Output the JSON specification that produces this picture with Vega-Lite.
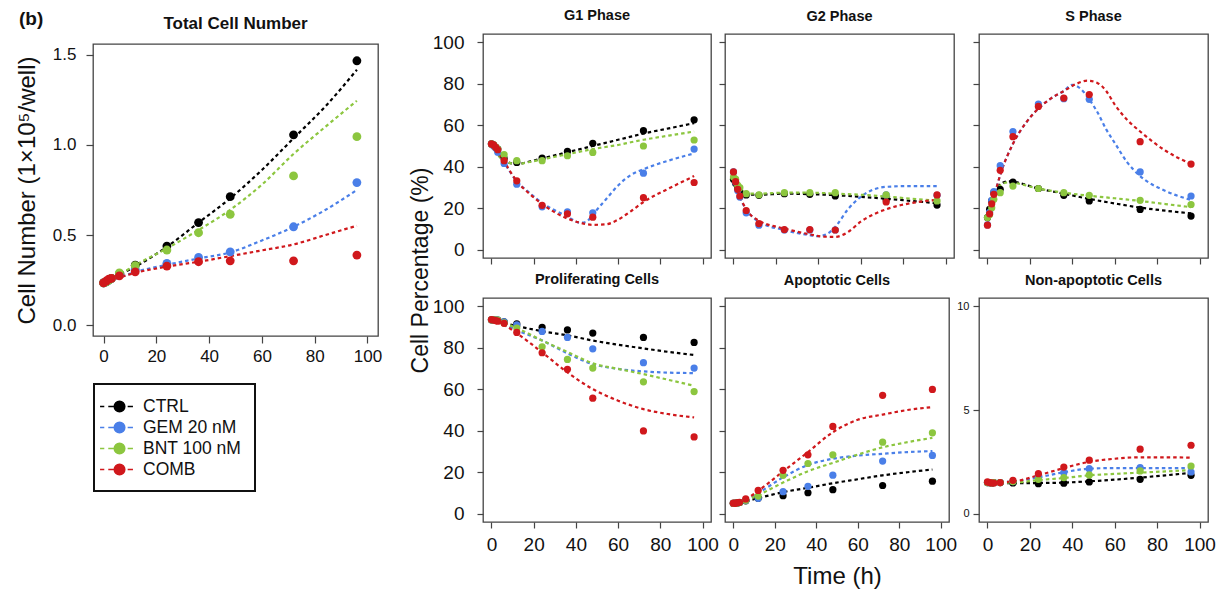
{
"$schema": "https://vega.github.io/schema/vega-lite/v6.json",
"padding": {"left": 14, "top": 7, "right": 4, "bottom": 4},
"spacing": 25,
"datasets": {
"obs": [
{"p":"Total","g":"CTRL","t":0,"v":0.235},{"p":"Total","g":"CTRL","t":1,"v":0.24},{"p":"Total","g":"CTRL","t":2,"v":0.25},{"p":"Total","g":"CTRL","t":3,"v":0.26},{"p":"Total","g":"CTRL","t":6,"v":0.285},{"p":"Total","g":"CTRL","t":12,"v":0.333},{"p":"Total","g":"CTRL","t":24,"v":0.439},{"p":"Total","g":"CTRL","t":36,"v":0.569},{"p":"Total","g":"CTRL","t":48,"v":0.713},{"p":"Total","g":"CTRL","t":72,"v":1.056},{"p":"Total","g":"CTRL","t":96,"v":1.467},
{"p":"Total","g":"GEM 20 nM","t":0,"v":0.235},{"p":"Total","g":"GEM 20 nM","t":1,"v":0.24},{"p":"Total","g":"GEM 20 nM","t":2,"v":0.25},{"p":"Total","g":"GEM 20 nM","t":3,"v":0.26},{"p":"Total","g":"GEM 20 nM","t":6,"v":0.28},{"p":"Total","g":"GEM 20 nM","t":12,"v":0.31},{"p":"Total","g":"GEM 20 nM","t":24,"v":0.343},{"p":"Total","g":"GEM 20 nM","t":36,"v":0.376},{"p":"Total","g":"GEM 20 nM","t":48,"v":0.407},{"p":"Total","g":"GEM 20 nM","t":72,"v":0.546},{"p":"Total","g":"GEM 20 nM","t":96,"v":0.791},
{"p":"Total","g":"BNT 100 nM","t":0,"v":0.235},{"p":"Total","g":"BNT 100 nM","t":1,"v":0.24},{"p":"Total","g":"BNT 100 nM","t":2,"v":0.25},{"p":"Total","g":"BNT 100 nM","t":3,"v":0.26},{"p":"Total","g":"BNT 100 nM","t":6,"v":0.29},{"p":"Total","g":"BNT 100 nM","t":12,"v":0.33},{"p":"Total","g":"BNT 100 nM","t":24,"v":0.417},{"p":"Total","g":"BNT 100 nM","t":36,"v":0.513},{"p":"Total","g":"BNT 100 nM","t":48,"v":0.615},{"p":"Total","g":"BNT 100 nM","t":72,"v":0.828},{"p":"Total","g":"BNT 100 nM","t":96,"v":1.046},
{"p":"Total","g":"COMB","t":0,"v":0.235},{"p":"Total","g":"COMB","t":1,"v":0.245},{"p":"Total","g":"COMB","t":2,"v":0.255},{"p":"Total","g":"COMB","t":3,"v":0.26},{"p":"Total","g":"COMB","t":6,"v":0.274},{"p":"Total","g":"COMB","t":12,"v":0.296},{"p":"Total","g":"COMB","t":24,"v":0.328},{"p":"Total","g":"COMB","t":36,"v":0.352},{"p":"Total","g":"COMB","t":48,"v":0.357},{"p":"Total","g":"COMB","t":72,"v":0.357},{"p":"Total","g":"COMB","t":96,"v":0.389},

{"p":"G1","g":"CTRL","t":0,"v":51},{"p":"G1","g":"CTRL","t":1,"v":50.5},{"p":"G1","g":"CTRL","t":2,"v":49.5},{"p":"G1","g":"CTRL","t":3,"v":48.5},{"p":"G1","g":"CTRL","t":6,"v":44},{"p":"G1","g":"CTRL","t":12,"v":42.1},{"p":"G1","g":"CTRL","t":24,"v":44.2},{"p":"G1","g":"CTRL","t":36,"v":47.4},{"p":"G1","g":"CTRL","t":48,"v":51.3},{"p":"G1","g":"CTRL","t":72,"v":57.4},{"p":"G1","g":"CTRL","t":96,"v":62.6},
{"p":"G1","g":"GEM 20 nM","t":0,"v":51},{"p":"G1","g":"GEM 20 nM","t":1,"v":50},{"p":"G1","g":"GEM 20 nM","t":2,"v":49},{"p":"G1","g":"GEM 20 nM","t":3,"v":47},{"p":"G1","g":"GEM 20 nM","t":6,"v":41.6},{"p":"G1","g":"GEM 20 nM","t":12,"v":31.6},{"p":"G1","g":"GEM 20 nM","t":24,"v":20.7},{"p":"G1","g":"GEM 20 nM","t":36,"v":18.3},{"p":"G1","g":"GEM 20 nM","t":48,"v":17.8},{"p":"G1","g":"GEM 20 nM","t":72,"v":36.9},{"p":"G1","g":"GEM 20 nM","t":96,"v":48.5},
{"p":"G1","g":"BNT 100 nM","t":0,"v":51},{"p":"G1","g":"BNT 100 nM","t":1,"v":50.5},{"p":"G1","g":"BNT 100 nM","t":2,"v":49.5},{"p":"G1","g":"BNT 100 nM","t":3,"v":48.5},{"p":"G1","g":"BNT 100 nM","t":6,"v":45.8},{"p":"G1","g":"BNT 100 nM","t":12,"v":42.9},{"p":"G1","g":"BNT 100 nM","t":24,"v":42.9},{"p":"G1","g":"BNT 100 nM","t":36,"v":45.3},{"p":"G1","g":"BNT 100 nM","t":48,"v":46.9},{"p":"G1","g":"BNT 100 nM","t":72,"v":50.0},{"p":"G1","g":"BNT 100 nM","t":96,"v":52.9},
{"p":"G1","g":"COMB","t":0,"v":51},{"p":"G1","g":"COMB","t":1,"v":50.5},{"p":"G1","g":"COMB","t":2,"v":49.4},{"p":"G1","g":"COMB","t":3,"v":48.2},{"p":"G1","g":"COMB","t":6,"v":42.9},{"p":"G1","g":"COMB","t":12,"v":33.2},{"p":"G1","g":"COMB","t":24,"v":21.4},{"p":"G1","g":"COMB","t":36,"v":17.3},{"p":"G1","g":"COMB","t":48,"v":15.7},{"p":"G1","g":"COMB","t":72,"v":25.1},{"p":"G1","g":"COMB","t":96,"v":32.4},

{"p":"G2","g":"CTRL","t":0,"v":34},{"p":"G2","g":"CTRL","t":1,"v":32},{"p":"G2","g":"CTRL","t":2,"v":30},{"p":"G2","g":"CTRL","t":3,"v":28},{"p":"G2","g":"CTRL","t":6,"v":26.4},{"p":"G2","g":"CTRL","t":12,"v":26.2},{"p":"G2","g":"CTRL","t":24,"v":27.0},{"p":"G2","g":"CTRL","t":36,"v":26.7},{"p":"G2","g":"CTRL","t":48,"v":25.9},{"p":"G2","g":"CTRL","t":72,"v":24.1},{"p":"G2","g":"CTRL","t":96,"v":21.5},
{"p":"G2","g":"GEM 20 nM","t":0,"v":37.5},{"p":"G2","g":"GEM 20 nM","t":1,"v":32.5},{"p":"G2","g":"GEM 20 nM","t":2,"v":28.5},{"p":"G2","g":"GEM 20 nM","t":3,"v":25.4},{"p":"G2","g":"GEM 20 nM","t":6,"v":17.8},{"p":"G2","g":"GEM 20 nM","t":12,"v":11.8},{"p":"G2","g":"GEM 20 nM","t":24,"v":9.5},{"p":"G2","g":"GEM 20 nM","t":36,"v":9.5},{"p":"G2","g":"GEM 20 nM","t":48,"v":9.5},{"p":"G2","g":"GEM 20 nM","t":72,"v":26.4},{"p":"G2","g":"GEM 20 nM","t":96,"v":26.2},
{"p":"G2","g":"BNT 100 nM","t":0,"v":35},{"p":"G2","g":"BNT 100 nM","t":1,"v":34},{"p":"G2","g":"BNT 100 nM","t":2,"v":31},{"p":"G2","g":"BNT 100 nM","t":3,"v":29.9},{"p":"G2","g":"BNT 100 nM","t":6,"v":27.0},{"p":"G2","g":"BNT 100 nM","t":12,"v":26.5},{"p":"G2","g":"BNT 100 nM","t":24,"v":27.5},{"p":"G2","g":"BNT 100 nM","t":36,"v":27.5},{"p":"G2","g":"BNT 100 nM","t":48,"v":27.5},{"p":"G2","g":"BNT 100 nM","t":72,"v":26.4},{"p":"G2","g":"BNT 100 nM","t":96,"v":23.5},
{"p":"G2","g":"COMB","t":0,"v":37.5},{"p":"G2","g":"COMB","t":1,"v":32.8},{"p":"G2","g":"COMB","t":2,"v":29.1},{"p":"G2","g":"COMB","t":3,"v":25.9},{"p":"G2","g":"COMB","t":6,"v":18.9},{"p":"G2","g":"COMB","t":12,"v":12.6},{"p":"G2","g":"COMB","t":24,"v":9.7},{"p":"G2","g":"COMB","t":36,"v":9.7},{"p":"G2","g":"COMB","t":48,"v":9.5},{"p":"G2","g":"COMB","t":72,"v":23.0},{"p":"G2","g":"COMB","t":96,"v":26.4},

{"p":"S","g":"CTRL","t":0,"v":15.5},{"p":"S","g":"CTRL","t":1,"v":19.4},{"p":"S","g":"CTRL","t":2,"v":23.5},{"p":"S","g":"CTRL","t":3,"v":27.5},{"p":"S","g":"CTRL","t":6,"v":29.1},{"p":"S","g":"CTRL","t":12,"v":32.6},{"p":"S","g":"CTRL","t":24,"v":29.5},{"p":"S","g":"CTRL","t":36,"v":26.2},{"p":"S","g":"CTRL","t":48,"v":23.5},{"p":"S","g":"CTRL","t":72,"v":19.4},{"p":"S","g":"CTRL","t":96,"v":16.2},
{"p":"S","g":"GEM 20 nM","t":0,"v":12},{"p":"S","g":"GEM 20 nM","t":1,"v":18},{"p":"S","g":"GEM 20 nM","t":2,"v":23.8},{"p":"S","g":"GEM 20 nM","t":3,"v":28},{"p":"S","g":"GEM 20 nM","t":6,"v":40.5},{"p":"S","g":"GEM 20 nM","t":12,"v":57},{"p":"S","g":"GEM 20 nM","t":24,"v":70.2},{"p":"S","g":"GEM 20 nM","t":36,"v":72.8},{"p":"S","g":"GEM 20 nM","t":48,"v":72.5},{"p":"S","g":"GEM 20 nM","t":72,"v":37.5},{"p":"S","g":"GEM 20 nM","t":96,"v":25.9},
{"p":"S","g":"BNT 100 nM","t":0,"v":15.5},{"p":"S","g":"BNT 100 nM","t":1,"v":17},{"p":"S","g":"BNT 100 nM","t":2,"v":20.2},{"p":"S","g":"BNT 100 nM","t":3,"v":24.3},{"p":"S","g":"BNT 100 nM","t":6,"v":27.5},{"p":"S","g":"BNT 100 nM","t":12,"v":30.7},{"p":"S","g":"BNT 100 nM","t":24,"v":29.5},{"p":"S","g":"BNT 100 nM","t":36,"v":27.5},{"p":"S","g":"BNT 100 nM","t":48,"v":26.2},{"p":"S","g":"BNT 100 nM","t":72,"v":23.8},{"p":"S","g":"BNT 100 nM","t":96,"v":21.8},
{"p":"S","g":"COMB","t":0,"v":11.8},{"p":"S","g":"COMB","t":1,"v":17.3},{"p":"S","g":"COMB","t":2,"v":22.1},{"p":"S","g":"COMB","t":3,"v":26.7},{"p":"S","g":"COMB","t":6,"v":38.3},{"p":"S","g":"COMB","t":12,"v":54.5},{"p":"S","g":"COMB","t":24,"v":69.1},{"p":"S","g":"COMB","t":36,"v":73.1},{"p":"S","g":"COMB","t":48,"v":74.8},{"p":"S","g":"COMB","t":72,"v":52.1},{"p":"S","g":"COMB","t":96,"v":41.3},

{"p":"Prolif","g":"CTRL","t":0,"v":93.5},{"p":"Prolif","g":"CTRL","t":1,"v":93.5},{"p":"Prolif","g":"CTRL","t":2,"v":93.4},{"p":"Prolif","g":"CTRL","t":3,"v":93.3},{"p":"Prolif","g":"CTRL","t":6,"v":92.5},{"p":"Prolif","g":"CTRL","t":12,"v":91.5},{"p":"Prolif","g":"CTRL","t":24,"v":89.9},{"p":"Prolif","g":"CTRL","t":36,"v":88.6},{"p":"Prolif","g":"CTRL","t":48,"v":87.1},{"p":"Prolif","g":"CTRL","t":72,"v":85.0},{"p":"Prolif","g":"CTRL","t":96,"v":82.6},
{"p":"Prolif","g":"GEM 20 nM","t":0,"v":93.5},{"p":"Prolif","g":"GEM 20 nM","t":1,"v":93.5},{"p":"Prolif","g":"GEM 20 nM","t":2,"v":93.4},{"p":"Prolif","g":"GEM 20 nM","t":3,"v":93.3},{"p":"Prolif","g":"GEM 20 nM","t":6,"v":92.5},{"p":"Prolif","g":"GEM 20 nM","t":12,"v":91.0},{"p":"Prolif","g":"GEM 20 nM","t":24,"v":87.9},{"p":"Prolif","g":"GEM 20 nM","t":36,"v":85.0},{"p":"Prolif","g":"GEM 20 nM","t":48,"v":79.5},{"p":"Prolif","g":"GEM 20 nM","t":72,"v":72.8},{"p":"Prolif","g":"GEM 20 nM","t":96,"v":70.2},
{"p":"Prolif","g":"BNT 100 nM","t":0,"v":93.5},{"p":"Prolif","g":"BNT 100 nM","t":1,"v":93.5},{"p":"Prolif","g":"BNT 100 nM","t":2,"v":93.4},{"p":"Prolif","g":"BNT 100 nM","t":3,"v":93.3},{"p":"Prolif","g":"BNT 100 nM","t":6,"v":92.0},{"p":"Prolif","g":"BNT 100 nM","t":12,"v":89.5},{"p":"Prolif","g":"BNT 100 nM","t":24,"v":80.5},{"p":"Prolif","g":"BNT 100 nM","t":36,"v":74.4},{"p":"Prolif","g":"BNT 100 nM","t":48,"v":70.2},{"p":"Prolif","g":"BNT 100 nM","t":72,"v":63.6},{"p":"Prolif","g":"BNT 100 nM","t":96,"v":58.9},
{"p":"Prolif","g":"COMB","t":0,"v":93.6},{"p":"Prolif","g":"COMB","t":1,"v":93.4},{"p":"Prolif","g":"COMB","t":2,"v":93.1},{"p":"Prolif","g":"COMB","t":3,"v":92.8},{"p":"Prolif","g":"COMB","t":6,"v":91.8},{"p":"Prolif","g":"COMB","t":12,"v":87.4},{"p":"Prolif","g":"COMB","t":24,"v":77.6},{"p":"Prolif","g":"COMB","t":36,"v":69.6},{"p":"Prolif","g":"COMB","t":48,"v":55.7},{"p":"Prolif","g":"COMB","t":72,"v":39.9},{"p":"Prolif","g":"COMB","t":96,"v":37.0},

{"p":"Apop","g":"CTRL","t":0,"v":5.0},{"p":"Apop","g":"CTRL","t":1,"v":5.1},{"p":"Apop","g":"CTRL","t":2,"v":5.2},{"p":"Apop","g":"CTRL","t":3,"v":5.4},{"p":"Apop","g":"CTRL","t":6,"v":6.2},{"p":"Apop","g":"CTRL","t":12,"v":7.4},{"p":"Apop","g":"CTRL","t":24,"v":8.7},{"p":"Apop","g":"CTRL","t":36,"v":10.1},{"p":"Apop","g":"CTRL","t":48,"v":11.6},{"p":"Apop","g":"CTRL","t":72,"v":13.6},{"p":"Apop","g":"CTRL","t":96,"v":15.7},
{"p":"Apop","g":"GEM 20 nM","t":0,"v":5.0},{"p":"Apop","g":"GEM 20 nM","t":1,"v":5.1},{"p":"Apop","g":"GEM 20 nM","t":2,"v":5.2},{"p":"Apop","g":"GEM 20 nM","t":3,"v":5.4},{"p":"Apop","g":"GEM 20 nM","t":6,"v":6.4},{"p":"Apop","g":"GEM 20 nM","t":12,"v":7.4},{"p":"Apop","g":"GEM 20 nM","t":24,"v":10.6},{"p":"Apop","g":"GEM 20 nM","t":36,"v":13.2},{"p":"Apop","g":"GEM 20 nM","t":48,"v":18.6},{"p":"Apop","g":"GEM 20 nM","t":72,"v":25.4},{"p":"Apop","g":"GEM 20 nM","t":96,"v":28.1},
{"p":"Apop","g":"BNT 100 nM","t":0,"v":5.0},{"p":"Apop","g":"BNT 100 nM","t":1,"v":5.1},{"p":"Apop","g":"BNT 100 nM","t":2,"v":5.2},{"p":"Apop","g":"BNT 100 nM","t":3,"v":5.4},{"p":"Apop","g":"BNT 100 nM","t":6,"v":6.5},{"p":"Apop","g":"BNT 100 nM","t":12,"v":8.5},{"p":"Apop","g":"BNT 100 nM","t":24,"v":18.5},{"p":"Apop","g":"BNT 100 nM","t":36,"v":24.2},{"p":"Apop","g":"BNT 100 nM","t":48,"v":28.4},{"p":"Apop","g":"BNT 100 nM","t":72,"v":34.5},{"p":"Apop","g":"BNT 100 nM","t":96,"v":39.0},
{"p":"Apop","g":"COMB","t":0,"v":5.1},{"p":"Apop","g":"COMB","t":1,"v":5.0},{"p":"Apop","g":"COMB","t":2,"v":5.3},{"p":"Apop","g":"COMB","t":3,"v":5.5},{"p":"Apop","g":"COMB","t":6,"v":7.1},{"p":"Apop","g":"COMB","t":12,"v":11.2},{"p":"Apop","g":"COMB","t":24,"v":20.9},{"p":"Apop","g":"COMB","t":36,"v":28.4},{"p":"Apop","g":"COMB","t":48,"v":42.1},{"p":"Apop","g":"COMB","t":72,"v":57.1},{"p":"Apop","g":"COMB","t":96,"v":59.9},

{"p":"NonApop","g":"CTRL","t":0,"v":1.5},{"p":"NonApop","g":"CTRL","t":1,"v":1.5},{"p":"NonApop","g":"CTRL","t":2,"v":1.48},{"p":"NonApop","g":"CTRL","t":3,"v":1.5},{"p":"NonApop","g":"CTRL","t":6,"v":1.5},{"p":"NonApop","g":"CTRL","t":12,"v":1.48},{"p":"NonApop","g":"CTRL","t":24,"v":1.45},{"p":"NonApop","g":"CTRL","t":36,"v":1.47},{"p":"NonApop","g":"CTRL","t":48,"v":1.53},{"p":"NonApop","g":"CTRL","t":72,"v":1.66},{"p":"NonApop","g":"CTRL","t":96,"v":1.85},
{"p":"NonApop","g":"GEM 20 nM","t":0,"v":1.5},{"p":"NonApop","g":"GEM 20 nM","t":1,"v":1.5},{"p":"NonApop","g":"GEM 20 nM","t":2,"v":1.48},{"p":"NonApop","g":"GEM 20 nM","t":3,"v":1.5},{"p":"NonApop","g":"GEM 20 nM","t":6,"v":1.5},{"p":"NonApop","g":"GEM 20 nM","t":12,"v":1.55},{"p":"NonApop","g":"GEM 20 nM","t":24,"v":1.74},{"p":"NonApop","g":"GEM 20 nM","t":36,"v":1.98},{"p":"NonApop","g":"GEM 20 nM","t":48,"v":2.17},{"p":"NonApop","g":"GEM 20 nM","t":72,"v":2.22},{"p":"NonApop","g":"GEM 20 nM","t":96,"v":2.01},
{"p":"NonApop","g":"BNT 100 nM","t":0,"v":1.5},{"p":"NonApop","g":"BNT 100 nM","t":1,"v":1.5},{"p":"NonApop","g":"BNT 100 nM","t":2,"v":1.48},{"p":"NonApop","g":"BNT 100 nM","t":3,"v":1.5},{"p":"NonApop","g":"BNT 100 nM","t":6,"v":1.5},{"p":"NonApop","g":"BNT 100 nM","t":12,"v":1.55},{"p":"NonApop","g":"BNT 100 nM","t":24,"v":1.66},{"p":"NonApop","g":"BNT 100 nM","t":36,"v":1.74},{"p":"NonApop","g":"BNT 100 nM","t":48,"v":1.87},{"p":"NonApop","g":"BNT 100 nM","t":72,"v":2.06},{"p":"NonApop","g":"BNT 100 nM","t":96,"v":2.30},
{"p":"NonApop","g":"COMB","t":0,"v":1.53},{"p":"NonApop","g":"COMB","t":1,"v":1.5},{"p":"NonApop","g":"COMB","t":2,"v":1.48},{"p":"NonApop","g":"COMB","t":3,"v":1.48},{"p":"NonApop","g":"COMB","t":6,"v":1.5},{"p":"NonApop","g":"COMB","t":12,"v":1.61},{"p":"NonApop","g":"COMB","t":24,"v":1.93},{"p":"NonApop","g":"COMB","t":36,"v":2.25},{"p":"NonApop","g":"COMB","t":48,"v":2.58},{"p":"NonApop","g":"COMB","t":72,"v":3.11},{"p":"NonApop","g":"COMB","t":96,"v":3.30}
],
"fit": [
{"p":"Total","g":"CTRL","t":0,"v":0.235},{"p":"Total","g":"CTRL","t":6,"v":0.28},{"p":"Total","g":"CTRL","t":12,"v":0.324},{"p":"Total","g":"CTRL","t":24,"v":0.435},{"p":"Total","g":"CTRL","t":36,"v":0.569},{"p":"Total","g":"CTRL","t":48,"v":0.704},{"p":"Total","g":"CTRL","t":60,"v":0.861},{"p":"Total","g":"CTRL","t":72,"v":1.037},{"p":"Total","g":"CTRL","t":84,"v":1.213},{"p":"Total","g":"CTRL","t":96,"v":1.417},
{"p":"Total","g":"GEM 20 nM","t":0,"v":0.235},{"p":"Total","g":"GEM 20 nM","t":6,"v":0.265},{"p":"Total","g":"GEM 20 nM","t":12,"v":0.295},{"p":"Total","g":"GEM 20 nM","t":24,"v":0.335},{"p":"Total","g":"GEM 20 nM","t":36,"v":0.37},{"p":"Total","g":"GEM 20 nM","t":48,"v":0.404},{"p":"Total","g":"GEM 20 nM","t":60,"v":0.47},{"p":"Total","g":"GEM 20 nM","t":72,"v":0.546},{"p":"Total","g":"GEM 20 nM","t":84,"v":0.639},{"p":"Total","g":"GEM 20 nM","t":96,"v":0.75},
{"p":"Total","g":"BNT 100 nM","t":0,"v":0.235},{"p":"Total","g":"BNT 100 nM","t":6,"v":0.28},{"p":"Total","g":"BNT 100 nM","t":12,"v":0.333},{"p":"Total","g":"BNT 100 nM","t":24,"v":0.426},{"p":"Total","g":"BNT 100 nM","t":36,"v":0.528},{"p":"Total","g":"BNT 100 nM","t":48,"v":0.64},{"p":"Total","g":"BNT 100 nM","t":60,"v":0.78},{"p":"Total","g":"BNT 100 nM","t":72,"v":0.95},{"p":"Total","g":"BNT 100 nM","t":84,"v":1.10},{"p":"Total","g":"BNT 100 nM","t":96,"v":1.245},
{"p":"Total","g":"COMB","t":0,"v":0.235},{"p":"Total","g":"COMB","t":6,"v":0.265},{"p":"Total","g":"COMB","t":12,"v":0.29},{"p":"Total","g":"COMB","t":24,"v":0.325},{"p":"Total","g":"COMB","t":36,"v":0.352},{"p":"Total","g":"COMB","t":48,"v":0.383},{"p":"Total","g":"COMB","t":60,"v":0.415},{"p":"Total","g":"COMB","t":72,"v":0.448},{"p":"Total","g":"COMB","t":84,"v":0.5},{"p":"Total","g":"COMB","t":96,"v":0.552},

{"p":"G1","g":"CTRL","t":0,"v":51},{"p":"G1","g":"CTRL","t":3,"v":46},{"p":"G1","g":"CTRL","t":6,"v":43},{"p":"G1","g":"CTRL","t":12,"v":41.3},{"p":"G1","g":"CTRL","t":18,"v":42.5},{"p":"G1","g":"CTRL","t":24,"v":44},{"p":"G1","g":"CTRL","t":30,"v":45.5},{"p":"G1","g":"CTRL","t":36,"v":47},{"p":"G1","g":"CTRL","t":42,"v":48.5},{"p":"G1","g":"CTRL","t":48,"v":50},{"p":"G1","g":"CTRL","t":54,"v":51.5},{"p":"G1","g":"CTRL","t":60,"v":53},{"p":"G1","g":"CTRL","t":66,"v":54.5},{"p":"G1","g":"CTRL","t":72,"v":56},{"p":"G1","g":"CTRL","t":84,"v":58.5},{"p":"G1","g":"CTRL","t":96,"v":61},
{"p":"G1","g":"GEM 20 nM","t":0,"v":51},{"p":"G1","g":"GEM 20 nM","t":3,"v":47},{"p":"G1","g":"GEM 20 nM","t":6,"v":42},{"p":"G1","g":"GEM 20 nM","t":12,"v":33},{"p":"G1","g":"GEM 20 nM","t":18,"v":27.5},{"p":"G1","g":"GEM 20 nM","t":24,"v":22.5},{"p":"G1","g":"GEM 20 nM","t":30,"v":19},{"p":"G1","g":"GEM 20 nM","t":36,"v":16},{"p":"G1","g":"GEM 20 nM","t":42,"v":13},{"p":"G1","g":"GEM 20 nM","t":45,"v":13.5},{"p":"G1","g":"GEM 20 nM","t":48,"v":17},{"p":"G1","g":"GEM 20 nM","t":54,"v":24},{"p":"G1","g":"GEM 20 nM","t":60,"v":31},{"p":"G1","g":"GEM 20 nM","t":66,"v":36},{"p":"G1","g":"GEM 20 nM","t":72,"v":38.8},{"p":"G1","g":"GEM 20 nM","t":84,"v":43},{"p":"G1","g":"GEM 20 nM","t":96,"v":46.4},
{"p":"G1","g":"BNT 100 nM","t":0,"v":51},{"p":"G1","g":"BNT 100 nM","t":3,"v":46},{"p":"G1","g":"BNT 100 nM","t":6,"v":43},{"p":"G1","g":"BNT 100 nM","t":12,"v":41.3},{"p":"G1","g":"BNT 100 nM","t":18,"v":42.3},{"p":"G1","g":"BNT 100 nM","t":24,"v":43.5},{"p":"G1","g":"BNT 100 nM","t":30,"v":44.8},{"p":"G1","g":"BNT 100 nM","t":36,"v":46},{"p":"G1","g":"BNT 100 nM","t":42,"v":47.3},{"p":"G1","g":"BNT 100 nM","t":48,"v":48.5},{"p":"G1","g":"BNT 100 nM","t":54,"v":49.5},{"p":"G1","g":"BNT 100 nM","t":60,"v":50.5},{"p":"G1","g":"BNT 100 nM","t":66,"v":51.8},{"p":"G1","g":"BNT 100 nM","t":72,"v":53},{"p":"G1","g":"BNT 100 nM","t":84,"v":55},{"p":"G1","g":"BNT 100 nM","t":96,"v":57},
{"p":"G1","g":"COMB","t":0,"v":51},{"p":"G1","g":"COMB","t":3,"v":47},{"p":"G1","g":"COMB","t":6,"v":42.5},{"p":"G1","g":"COMB","t":12,"v":33},{"p":"G1","g":"COMB","t":18,"v":27},{"p":"G1","g":"COMB","t":24,"v":22},{"p":"G1","g":"COMB","t":30,"v":18},{"p":"G1","g":"COMB","t":36,"v":15},{"p":"G1","g":"COMB","t":42,"v":13},{"p":"G1","g":"COMB","t":48,"v":12},{"p":"G1","g":"COMB","t":54,"v":12.2},{"p":"G1","g":"COMB","t":60,"v":14.5},{"p":"G1","g":"COMB","t":66,"v":18.5},{"p":"G1","g":"COMB","t":72,"v":23},{"p":"G1","g":"COMB","t":84,"v":29.5},{"p":"G1","g":"COMB","t":96,"v":35.5},

{"p":"G2","g":"CTRL","t":0,"v":34},{"p":"G2","g":"CTRL","t":3,"v":28},{"p":"G2","g":"CTRL","t":6,"v":26.5},{"p":"G2","g":"CTRL","t":12,"v":26.5},{"p":"G2","g":"CTRL","t":24,"v":27},{"p":"G2","g":"CTRL","t":36,"v":26.8},{"p":"G2","g":"CTRL","t":48,"v":26.3},{"p":"G2","g":"CTRL","t":60,"v":25.5},{"p":"G2","g":"CTRL","t":72,"v":24.6},{"p":"G2","g":"CTRL","t":84,"v":23.5},{"p":"G2","g":"CTRL","t":96,"v":22.4},
{"p":"G2","g":"GEM 20 nM","t":0,"v":37.5},{"p":"G2","g":"GEM 20 nM","t":3,"v":25.5},{"p":"G2","g":"GEM 20 nM","t":6,"v":19.5},{"p":"G2","g":"GEM 20 nM","t":12,"v":13.5},{"p":"G2","g":"GEM 20 nM","t":24,"v":9.5},{"p":"G2","g":"GEM 20 nM","t":36,"v":7},{"p":"G2","g":"GEM 20 nM","t":40,"v":6.5},{"p":"G2","g":"GEM 20 nM","t":44,"v":7.5},{"p":"G2","g":"GEM 20 nM","t":48,"v":11},{"p":"G2","g":"GEM 20 nM","t":54,"v":19.5},{"p":"G2","g":"GEM 20 nM","t":60,"v":25.5},{"p":"G2","g":"GEM 20 nM","t":66,"v":29},{"p":"G2","g":"GEM 20 nM","t":72,"v":30.3},{"p":"G2","g":"GEM 20 nM","t":84,"v":30.7},{"p":"G2","g":"GEM 20 nM","t":96,"v":30.7},
{"p":"G2","g":"BNT 100 nM","t":0,"v":35},{"p":"G2","g":"BNT 100 nM","t":3,"v":29},{"p":"G2","g":"BNT 100 nM","t":6,"v":27},{"p":"G2","g":"BNT 100 nM","t":12,"v":27},{"p":"G2","g":"BNT 100 nM","t":24,"v":27.5},{"p":"G2","g":"BNT 100 nM","t":36,"v":27.5},{"p":"G2","g":"BNT 100 nM","t":48,"v":27},{"p":"G2","g":"BNT 100 nM","t":60,"v":26.5},{"p":"G2","g":"BNT 100 nM","t":72,"v":25.6},{"p":"G2","g":"BNT 100 nM","t":84,"v":24.6},{"p":"G2","g":"BNT 100 nM","t":96,"v":23.7},
{"p":"G2","g":"COMB","t":0,"v":37.5},{"p":"G2","g":"COMB","t":3,"v":26},{"p":"G2","g":"COMB","t":6,"v":19.5},{"p":"G2","g":"COMB","t":12,"v":14},{"p":"G2","g":"COMB","t":24,"v":10.2},{"p":"G2","g":"COMB","t":36,"v":7.4},{"p":"G2","g":"COMB","t":42,"v":6.3},{"p":"G2","g":"COMB","t":48,"v":6.2},{"p":"G2","g":"COMB","t":54,"v":8.5},{"p":"G2","g":"COMB","t":60,"v":13.5},{"p":"G2","g":"COMB","t":66,"v":17},{"p":"G2","g":"COMB","t":72,"v":19.5},{"p":"G2","g":"COMB","t":84,"v":22.5},{"p":"G2","g":"COMB","t":96,"v":24},

{"p":"S","g":"CTRL","t":0,"v":15.5},{"p":"S","g":"CTRL","t":3,"v":27},{"p":"S","g":"CTRL","t":6,"v":31.5},{"p":"S","g":"CTRL","t":10,"v":33},{"p":"S","g":"CTRL","t":12,"v":32.8},{"p":"S","g":"CTRL","t":24,"v":29.5},{"p":"S","g":"CTRL","t":36,"v":27},{"p":"S","g":"CTRL","t":48,"v":24.5},{"p":"S","g":"CTRL","t":60,"v":22.3},{"p":"S","g":"CTRL","t":72,"v":20.3},{"p":"S","g":"CTRL","t":84,"v":18.8},{"p":"S","g":"CTRL","t":96,"v":17.5},
{"p":"S","g":"GEM 20 nM","t":0,"v":12},{"p":"S","g":"GEM 20 nM","t":3,"v":25},{"p":"S","g":"GEM 20 nM","t":6,"v":36},{"p":"S","g":"GEM 20 nM","t":12,"v":51},{"p":"S","g":"GEM 20 nM","t":18,"v":61},{"p":"S","g":"GEM 20 nM","t":24,"v":68},{"p":"S","g":"GEM 20 nM","t":30,"v":73},{"p":"S","g":"GEM 20 nM","t":36,"v":76.5},{"p":"S","g":"GEM 20 nM","t":40,"v":79.5},{"p":"S","g":"GEM 20 nM","t":44,"v":77.5},{"p":"S","g":"GEM 20 nM","t":48,"v":72.5},{"p":"S","g":"GEM 20 nM","t":52,"v":66},{"p":"S","g":"GEM 20 nM","t":56,"v":58},{"p":"S","g":"GEM 20 nM","t":60,"v":51.5},{"p":"S","g":"GEM 20 nM","t":66,"v":42},{"p":"S","g":"GEM 20 nM","t":72,"v":35.5},{"p":"S","g":"GEM 20 nM","t":84,"v":28.3},{"p":"S","g":"GEM 20 nM","t":96,"v":24},
{"p":"S","g":"BNT 100 nM","t":0,"v":15.5},{"p":"S","g":"BNT 100 nM","t":3,"v":26},{"p":"S","g":"BNT 100 nM","t":6,"v":31},{"p":"S","g":"BNT 100 nM","t":10,"v":32.5},{"p":"S","g":"BNT 100 nM","t":12,"v":32.3},{"p":"S","g":"BNT 100 nM","t":24,"v":29.5},{"p":"S","g":"BNT 100 nM","t":36,"v":27.5},{"p":"S","g":"BNT 100 nM","t":48,"v":26},{"p":"S","g":"BNT 100 nM","t":60,"v":24.8},{"p":"S","g":"BNT 100 nM","t":72,"v":23.5},{"p":"S","g":"BNT 100 nM","t":84,"v":22},{"p":"S","g":"BNT 100 nM","t":96,"v":20.5},
{"p":"S","g":"COMB","t":0,"v":12},{"p":"S","g":"COMB","t":3,"v":25},{"p":"S","g":"COMB","t":6,"v":36},{"p":"S","g":"COMB","t":12,"v":51},{"p":"S","g":"COMB","t":18,"v":61},{"p":"S","g":"COMB","t":24,"v":68},{"p":"S","g":"COMB","t":30,"v":73},{"p":"S","g":"COMB","t":36,"v":76.5},{"p":"S","g":"COMB","t":42,"v":80},{"p":"S","g":"COMB","t":47,"v":81.5},{"p":"S","g":"COMB","t":52,"v":80.3},{"p":"S","g":"COMB","t":56,"v":76.5},{"p":"S","g":"COMB","t":60,"v":70},{"p":"S","g":"COMB","t":66,"v":62.5},{"p":"S","g":"COMB","t":72,"v":57},{"p":"S","g":"COMB","t":84,"v":47.7},{"p":"S","g":"COMB","t":96,"v":41.3},

{"p":"Prolif","g":"CTRL","t":0,"v":93.5},{"p":"Prolif","g":"CTRL","t":6,"v":92},{"p":"Prolif","g":"CTRL","t":12,"v":90.5},{"p":"Prolif","g":"CTRL","t":24,"v":88},{"p":"Prolif","g":"CTRL","t":36,"v":86},{"p":"Prolif","g":"CTRL","t":48,"v":83.5},{"p":"Prolif","g":"CTRL","t":60,"v":81.5},{"p":"Prolif","g":"CTRL","t":72,"v":79.7},{"p":"Prolif","g":"CTRL","t":84,"v":78},{"p":"Prolif","g":"CTRL","t":96,"v":76.5},
{"p":"Prolif","g":"GEM 20 nM","t":0,"v":93.5},{"p":"Prolif","g":"GEM 20 nM","t":6,"v":91.3},{"p":"Prolif","g":"GEM 20 nM","t":12,"v":88.5},{"p":"Prolif","g":"GEM 20 nM","t":24,"v":83.5},{"p":"Prolif","g":"GEM 20 nM","t":36,"v":77.3},{"p":"Prolif","g":"GEM 20 nM","t":48,"v":72.1},{"p":"Prolif","g":"GEM 20 nM","t":60,"v":69.8},{"p":"Prolif","g":"GEM 20 nM","t":72,"v":68.6},{"p":"Prolif","g":"GEM 20 nM","t":84,"v":68},{"p":"Prolif","g":"GEM 20 nM","t":96,"v":67.8},
{"p":"Prolif","g":"BNT 100 nM","t":0,"v":93.5},{"p":"Prolif","g":"BNT 100 nM","t":6,"v":91.8},{"p":"Prolif","g":"BNT 100 nM","t":12,"v":89.5},{"p":"Prolif","g":"BNT 100 nM","t":24,"v":83.5},{"p":"Prolif","g":"BNT 100 nM","t":36,"v":78},{"p":"Prolif","g":"BNT 100 nM","t":48,"v":72.5},{"p":"Prolif","g":"BNT 100 nM","t":60,"v":69.8},{"p":"Prolif","g":"BNT 100 nM","t":72,"v":67.3},{"p":"Prolif","g":"BNT 100 nM","t":84,"v":64.5},{"p":"Prolif","g":"BNT 100 nM","t":96,"v":61.7},
{"p":"Prolif","g":"COMB","t":0,"v":93.5},{"p":"Prolif","g":"COMB","t":6,"v":91},{"p":"Prolif","g":"COMB","t":12,"v":87},{"p":"Prolif","g":"COMB","t":24,"v":77.8},{"p":"Prolif","g":"COMB","t":36,"v":68.1},{"p":"Prolif","g":"COMB","t":48,"v":60.1},{"p":"Prolif","g":"COMB","t":60,"v":54.5},{"p":"Prolif","g":"COMB","t":72,"v":50.4},{"p":"Prolif","g":"COMB","t":84,"v":48},{"p":"Prolif","g":"COMB","t":96,"v":46.4},

{"p":"Apop","g":"CTRL","t":0,"v":5},{"p":"Apop","g":"CTRL","t":6,"v":6},{"p":"Apop","g":"CTRL","t":12,"v":7.5},{"p":"Apop","g":"CTRL","t":24,"v":10.4},{"p":"Apop","g":"CTRL","t":36,"v":12.5},{"p":"Apop","g":"CTRL","t":48,"v":14.7},{"p":"Apop","g":"CTRL","t":60,"v":16.6},{"p":"Apop","g":"CTRL","t":72,"v":18.5},{"p":"Apop","g":"CTRL","t":84,"v":20},{"p":"Apop","g":"CTRL","t":96,"v":21.3},
{"p":"Apop","g":"GEM 20 nM","t":0,"v":5},{"p":"Apop","g":"GEM 20 nM","t":6,"v":6.8},{"p":"Apop","g":"GEM 20 nM","t":12,"v":10},{"p":"Apop","g":"GEM 20 nM","t":24,"v":17.5},{"p":"Apop","g":"GEM 20 nM","t":36,"v":23.5},{"p":"Apop","g":"GEM 20 nM","t":48,"v":26.5},{"p":"Apop","g":"GEM 20 nM","t":60,"v":28},{"p":"Apop","g":"GEM 20 nM","t":72,"v":28.9},{"p":"Apop","g":"GEM 20 nM","t":84,"v":29.7},{"p":"Apop","g":"GEM 20 nM","t":96,"v":30.2},
{"p":"Apop","g":"BNT 100 nM","t":0,"v":5},{"p":"Apop","g":"BNT 100 nM","t":6,"v":6.5},{"p":"Apop","g":"BNT 100 nM","t":12,"v":9},{"p":"Apop","g":"BNT 100 nM","t":24,"v":15},{"p":"Apop","g":"BNT 100 nM","t":36,"v":20.5},{"p":"Apop","g":"BNT 100 nM","t":48,"v":24.5},{"p":"Apop","g":"BNT 100 nM","t":60,"v":28.5},{"p":"Apop","g":"BNT 100 nM","t":72,"v":32},{"p":"Apop","g":"BNT 100 nM","t":84,"v":34.5},{"p":"Apop","g":"BNT 100 nM","t":96,"v":36.6},
{"p":"Apop","g":"COMB","t":0,"v":5},{"p":"Apop","g":"COMB","t":6,"v":7},{"p":"Apop","g":"COMB","t":12,"v":11},{"p":"Apop","g":"COMB","t":24,"v":20.4},{"p":"Apop","g":"COMB","t":36,"v":29.7},{"p":"Apop","g":"COMB","t":48,"v":39.3},{"p":"Apop","g":"COMB","t":60,"v":45.3},{"p":"Apop","g":"COMB","t":72,"v":47.8},{"p":"Apop","g":"COMB","t":84,"v":50},{"p":"Apop","g":"COMB","t":96,"v":51.4},

{"p":"NonApop","g":"CTRL","t":0,"v":1.5},{"p":"NonApop","g":"CTRL","t":12,"v":1.47},{"p":"NonApop","g":"CTRL","t":24,"v":1.48},{"p":"NonApop","g":"CTRL","t":36,"v":1.5},{"p":"NonApop","g":"CTRL","t":48,"v":1.56},{"p":"NonApop","g":"CTRL","t":60,"v":1.64},{"p":"NonApop","g":"CTRL","t":72,"v":1.74},{"p":"NonApop","g":"CTRL","t":84,"v":1.85},{"p":"NonApop","g":"CTRL","t":96,"v":1.97},
{"p":"NonApop","g":"GEM 20 nM","t":0,"v":1.5},{"p":"NonApop","g":"GEM 20 nM","t":12,"v":1.55},{"p":"NonApop","g":"GEM 20 nM","t":24,"v":1.75},{"p":"NonApop","g":"GEM 20 nM","t":36,"v":2.0},{"p":"NonApop","g":"GEM 20 nM","t":48,"v":2.17},{"p":"NonApop","g":"GEM 20 nM","t":60,"v":2.2},{"p":"NonApop","g":"GEM 20 nM","t":72,"v":2.2},{"p":"NonApop","g":"GEM 20 nM","t":84,"v":2.2},{"p":"NonApop","g":"GEM 20 nM","t":96,"v":2.2},
{"p":"NonApop","g":"BNT 100 nM","t":0,"v":1.5},{"p":"NonApop","g":"BNT 100 nM","t":12,"v":1.5},{"p":"NonApop","g":"BNT 100 nM","t":24,"v":1.62},{"p":"NonApop","g":"BNT 100 nM","t":36,"v":1.72},{"p":"NonApop","g":"BNT 100 nM","t":48,"v":1.85},{"p":"NonApop","g":"BNT 100 nM","t":60,"v":1.92},{"p":"NonApop","g":"BNT 100 nM","t":72,"v":1.98},{"p":"NonApop","g":"BNT 100 nM","t":84,"v":2.04},{"p":"NonApop","g":"BNT 100 nM","t":96,"v":2.1},
{"p":"NonApop","g":"COMB","t":0,"v":1.5},{"p":"NonApop","g":"COMB","t":12,"v":1.55},{"p":"NonApop","g":"COMB","t":24,"v":1.85},{"p":"NonApop","g":"COMB","t":36,"v":2.2},{"p":"NonApop","g":"COMB","t":48,"v":2.5},{"p":"NonApop","g":"COMB","t":60,"v":2.65},{"p":"NonApop","g":"COMB","t":72,"v":2.72},{"p":"NonApop","g":"COMB","t":84,"v":2.72},{"p":"NonApop","g":"COMB","t":96,"v":2.7}
]
},
"hconcat": [
{
"vconcat": [
{"width": 285, "height": 1, "data": {"values": []}, "mark": {"type": "point", "opacity": 0}, "view": {"stroke": null},
 "title": {"text": "(b)", "anchor": "start", "fontSize": 19, "fontWeight": "bold", "baseline": "alphabetic", "offset": -10, "dx": -74}},
{"width": 285, "height": 292,
 "title": {"text": "Total Cell Number", "fontSize": 17, "offset": 11},
 "encoding": {
  "x": {"field": "t", "type": "quantitative", "scale": {"domain": [-4, 104], "nice": false, "zero": false}, "axis": {"values": [0,20,40,60,80,100], "title": null, "labelFontSize": 17, "tickSize": 7, "labelPadding": 5}},
  "y": {"field": "v", "type": "quantitative", "scale": {"domain": [-0.06, 1.56], "nice": false, "zero": false}, "axis": {"values": [0,0.5,1,1.5], "format": ".1f", "labelFontSize": 17, "tickSize": 7, "labelPadding": 10, "title": "Cell Number (1×10⁵/well)", "titleFontSize": 24, "titleAngle": 270, "titleAlign": "center", "titleBaseline": "bottom", "titleX": -54, "titleY": 146}},
  "color": {"field": "g", "type": "nominal", "scale": {"domain": ["CTRL","GEM 20 nM","BNT 100 nM","COMB"], "range": ["#000000","#4a7fe8","#8cc63f","#d0181c"]},
   "legend": {"title": null, "orient": "none", "legendX": 1, "legendY": 350, "strokeColor": "#111", "fillColor": "white", "padding": 13, "labelFontSize": 17.5, "labelColor": "#111", "labelOffset": 17, "rowPadding": 3, "symbolType": "M-1.9,0H-1.41M-0.95,0H-0.33M0.96,0A0.61,0.61,0,1,1,-0.26,0A0.61,0.61,0,1,1,0.96,0ZM1.29,0H1.9", "symbolSize": 300, "symbolStrokeWidth": 1.5, "symbolOpacity": 1,
    "encode": {"legend": {"update": {"strokeWidth": {"value": 2}}}, "symbols": {"update": {"fill": {"scale": "color", "field": "value"}, "stroke": {"scale": "color", "field": "value"}}}}}}
 },
 "layer": [
  {"data": {"name": "fit"}, "transform": [{"filter": "datum.p === 'Total'"}], "mark": {"type": "line", "strokeDash": [3.5, 3], "strokeWidth": 2.2, "interpolate": "monotone"}},
  {"data": {"name": "obs"}, "transform": [{"filter": "datum.p === 'Total'"}], "mark": {"type": "point", "filled": true, "size": 78, "opacity": 1}}
 ]
}
],
"spacing": 9, "bounds": "flush",
"resolve": {"scale": {"x": "independent", "y": "independent", "color": "shared"}}
},
{
"concat": [
{"width": 228, "height": 224, "title": {"text": "G1 Phase"},
 "encoding": {
  "x": {"field": "t", "type": "quantitative", "scale": {"domain": [-4, 104], "nice": false, "zero": false}, "axis": {"values": [0,20,40,60,80,100], "labels": false, "title": null}},
  "y": {"field": "v", "type": "quantitative", "scale": {"domain": [-4, 104], "nice": false, "zero": false}, "axis": {"values": [0,20,40,60,80,100], "labelFontSize": 19, "labelPadding": 13, "title": "Cell Percentage (%)", "titleFontSize": 23, "titleAngle": 270, "titleAlign": "center", "titleBaseline": "middle", "titleX": -63, "titleY": 236}},
  "color": {"field": "g", "type": "nominal", "scale": {"domain": ["CTRL","GEM 20 nM","BNT 100 nM","COMB"], "range": ["#000000","#4a7fe8","#8cc63f","#d0181c"]}}
 },
 "layer": [
  {"data": {"name": "fit"}, "transform": [{"filter": "datum.p === 'G1'"}], "mark": {"type": "line", "strokeDash": [3.5, 3], "strokeWidth": 2.2, "interpolate": "monotone"}},
  {"data": {"name": "obs"}, "transform": [{"filter": "datum.p === 'G1'"}], "mark": {"type": "point", "filled": true, "size": 52, "opacity": 1}}
 ]
},
{"width": 14, "height": 1, "data": {"values": []}, "mark": {"type": "point", "opacity": 0}, "view": {"stroke": null}},
{"width": 229, "height": 224, "title": {"text": "G2 Phase"},
 "encoding": {
  "x": {"field": "t", "type": "quantitative", "scale": {"domain": [-4, 104], "nice": false, "zero": false}, "axis": {"values": [0,20,40,60,80,100], "labels": false, "title": null}},
  "y": {"field": "v", "type": "quantitative", "scale": {"domain": [-4, 104], "nice": false, "zero": false}, "axis": {"values": [0,20,40,60,80,100], "labels": false, "title": null}},
  "color": {"field": "g", "type": "nominal", "scale": {"domain": ["CTRL","GEM 20 nM","BNT 100 nM","COMB"], "range": ["#000000","#4a7fe8","#8cc63f","#d0181c"]}}
 },
 "layer": [
  {"data": {"name": "fit"}, "transform": [{"filter": "datum.p === 'G2'"}], "mark": {"type": "line", "strokeDash": [3.5, 3], "strokeWidth": 2.2, "interpolate": "monotone"}},
  {"data": {"name": "obs"}, "transform": [{"filter": "datum.p === 'G2'"}], "mark": {"type": "point", "filled": true, "size": 52, "opacity": 1}}
 ]
},
{"width": 25, "height": 1, "data": {"values": []}, "mark": {"type": "point", "opacity": 0}, "view": {"stroke": null}},
{"width": 229, "height": 224, "title": {"text": "S Phase"},
 "encoding": {
  "x": {"field": "t", "type": "quantitative", "scale": {"domain": [-4, 104], "nice": false, "zero": false}, "axis": {"values": [0,20,40,60,80,100], "labels": false, "title": null}},
  "y": {"field": "v", "type": "quantitative", "scale": {"domain": [-4, 104], "nice": false, "zero": false}, "axis": {"values": [0,20,40,60,80,100], "labels": false, "title": null}},
  "color": {"field": "g", "type": "nominal", "scale": {"domain": ["CTRL","GEM 20 nM","BNT 100 nM","COMB"], "range": ["#000000","#4a7fe8","#8cc63f","#d0181c"]}}
 },
 "layer": [
  {"data": {"name": "fit"}, "transform": [{"filter": "datum.p === 'S'"}], "mark": {"type": "line", "strokeDash": [3.5, 3], "strokeWidth": 2.2, "interpolate": "monotone"}},
  {"data": {"name": "obs"}, "transform": [{"filter": "datum.p === 'S'"}], "mark": {"type": "point", "filled": true, "size": 52, "opacity": 1}}
 ]
},
{"width": 228, "height": 224, "title": {"text": "Proliferating Cells"},
 "encoding": {
  "x": {"field": "t", "type": "quantitative", "scale": {"domain": [-4, 104], "nice": false, "zero": false}, "axis": {"values": [0,20,40,60,80,100], "labelFontSize": 19, "labelPadding": 7, "title": null}},
  "y": {"field": "v", "type": "quantitative", "scale": {"domain": [-4, 104], "nice": false, "zero": false}, "axis": {"values": [0,20,40,60,80,100], "labelFontSize": 19, "labelPadding": 13, "title": null}},
  "color": {"field": "g", "type": "nominal", "scale": {"domain": ["CTRL","GEM 20 nM","BNT 100 nM","COMB"], "range": ["#000000","#4a7fe8","#8cc63f","#d0181c"]}}
 },
 "layer": [
  {"data": {"name": "fit"}, "transform": [{"filter": "datum.p === 'Prolif'"}], "mark": {"type": "line", "strokeDash": [3.5, 3], "strokeWidth": 2.2, "interpolate": "monotone"}},
  {"data": {"name": "obs"}, "transform": [{"filter": "datum.p === 'Prolif'"}], "mark": {"type": "point", "filled": true, "size": 52, "opacity": 1}}
 ]
},
{"width": 14, "height": 1, "data": {"values": []}, "mark": {"type": "point", "opacity": 0}, "view": {"stroke": null}},
{"width": 224, "height": 224, "title": {"text": "Apoptotic Cells"},
 "encoding": {
  "x": {"field": "t", "type": "quantitative", "scale": {"domain": [-4, 104], "nice": false, "zero": false}, "axis": {"values": [0,20,40,60,80,100], "labelFontSize": 19, "labelPadding": 7, "title": "Time (h)", "titleFontSize": 24, "titlePadding": 10}},
  "y": {"field": "v", "type": "quantitative", "scale": {"domain": [-4, 104], "nice": false, "zero": false}, "axis": {"values": [0,20,40,60,80,100], "labels": false, "title": null}},
  "color": {"field": "g", "type": "nominal", "scale": {"domain": ["CTRL","GEM 20 nM","BNT 100 nM","COMB"], "range": ["#000000","#4a7fe8","#8cc63f","#d0181c"]}}
 },
 "layer": [
  {"data": {"name": "fit"}, "transform": [{"filter": "datum.p === 'Apop'"}], "mark": {"type": "line", "strokeDash": [3.5, 3], "strokeWidth": 2.2, "interpolate": "monotone"}},
  {"data": {"name": "obs"}, "transform": [{"filter": "datum.p === 'Apop'"}], "mark": {"type": "point", "filled": true, "size": 52, "opacity": 1}}
 ]
},
{"width": 25, "height": 1, "data": {"values": []}, "mark": {"type": "point", "opacity": 0}, "view": {"stroke": null}},
{"width": 229, "height": 224, "title": {"text": "Non-apoptotic Cells"},
 "encoding": {
  "x": {"field": "t", "type": "quantitative", "scale": {"domain": [-4, 104], "nice": false, "zero": false}, "axis": {"values": [0,20,40,60,80,100], "labelFontSize": 19, "labelPadding": 7, "title": null}},
  "y": {"field": "v", "type": "quantitative", "scale": {"domain": [-0.4, 10.4], "nice": false, "zero": false}, "axis": {"values": [0,5,10], "labelFontSize": 11, "labelPadding": 4, "title": null}},
  "color": {"field": "g", "type": "nominal", "scale": {"domain": ["CTRL","GEM 20 nM","BNT 100 nM","COMB"], "range": ["#000000","#4a7fe8","#8cc63f","#d0181c"]}}
 },
 "layer": [
  {"data": {"name": "fit"}, "transform": [{"filter": "datum.p === 'NonApop'"}], "mark": {"type": "line", "strokeDash": [3.5, 3], "strokeWidth": 2.2, "interpolate": "monotone"}},
  {"data": {"name": "obs"}, "transform": [{"filter": "datum.p === 'NonApop'"}], "mark": {"type": "point", "filled": true, "size": 52, "opacity": 1}}
 ]
}
],
"columns": 5,
"spacing": {"row": 40, "column": 0},
"bounds": "flush",
"resolve": {"scale": {"x": "independent", "y": "independent", "color": "shared"}}
}
],
"resolve": {"scale": {"x": "independent", "y": "independent", "color": "shared"}},
"config": {
 "font": "Liberation Sans",
 "background": "white",
 "view": {"stroke": "#444", "strokeWidth": 1.3},
 "axis": {"grid": false, "domain": false, "tickColor": "#444", "tickSize": 6, "tickWidth": 1.2, "labelColor": "#111", "labelFont": "Liberation Sans", "titleFont": "Liberation Sans", "titleColor": "#111", "titleFontWeight": "normal", "labelFlush": false, "labelOverlap": false},
 "title": {"font": "Liberation Sans", "fontWeight": "bold", "fontSize": 14.5, "color": "#111", "anchor": "middle", "baseline": "alphabetic", "offset": 10},
 "legend": {"labelFont": "Liberation Sans"}
}
}
